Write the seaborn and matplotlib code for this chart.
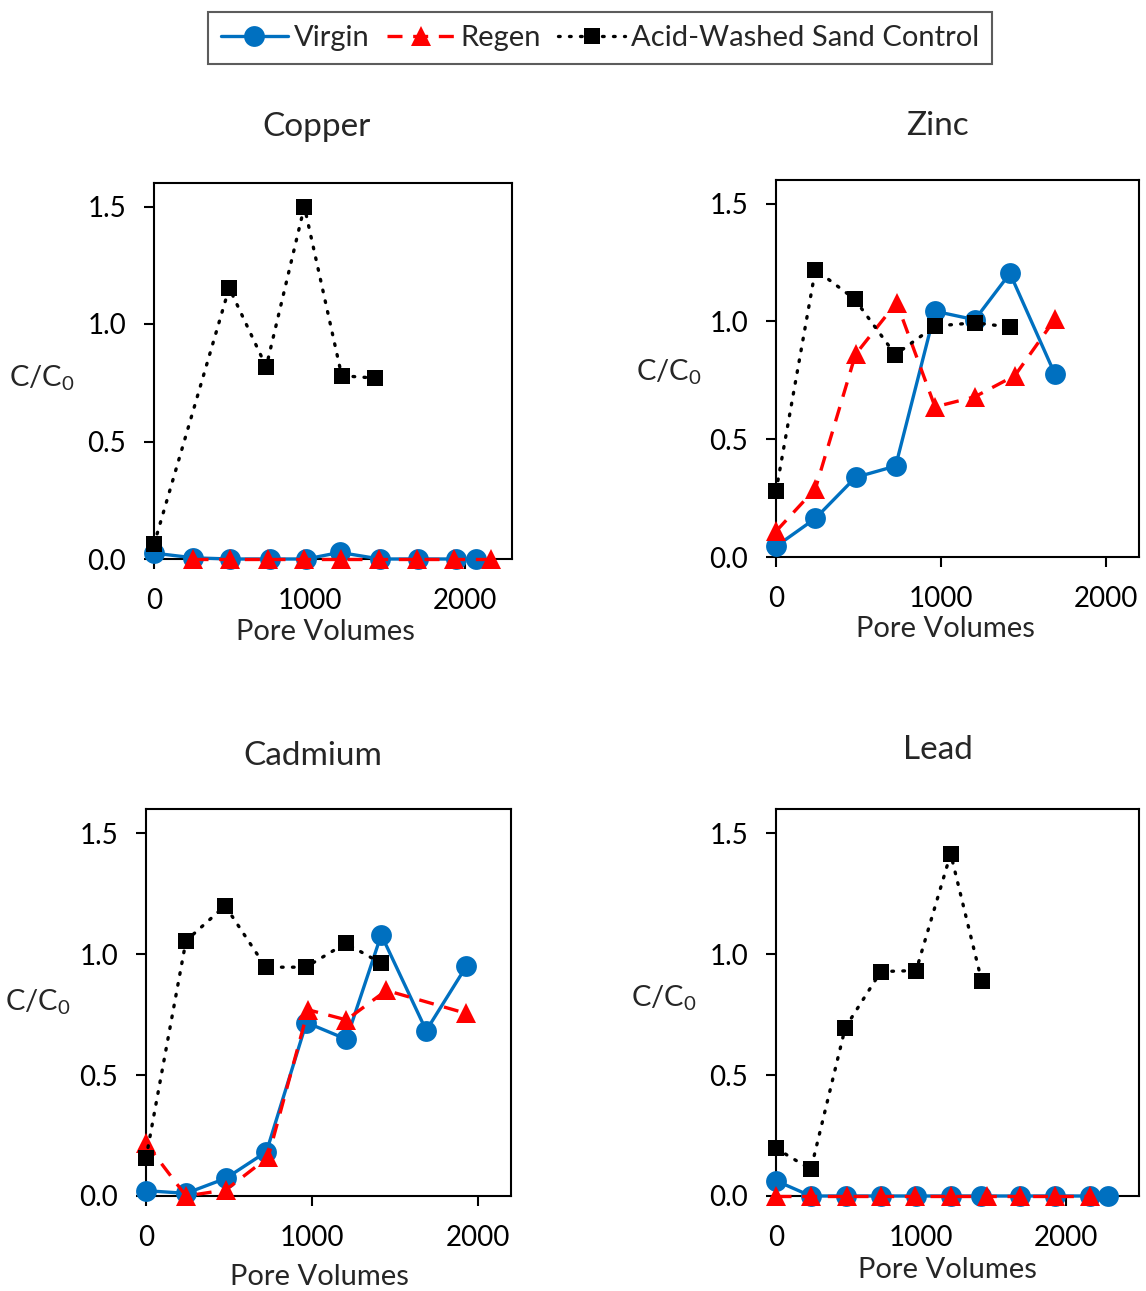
import matplotlib
matplotlib.use("Agg")
import matplotlib.pyplot as plt
import seaborn as sns
import pandas as pd

sns.set_theme(style="ticks")
plt.rcParams["font.family"] = ["Lato", "DejaVu Sans"]
plt.rcParams["mathtext.default"] = "regular"

# ---- data: pore volumes and C/C0 for each metal and column ----
copper_virgin_pv = [0, 253, 489, 743, 979, 1193, 1451, 1695, 1940, 2067]
copper_virgin_c = [0.025, 0.005, 0.0, 0.0, 0.0, 0.028, 0.0, 0.0, 0.0, 0.0]
copper_regen_pv = [251, 489, 730, 966, 1202, 1448, 1690, 1927, 2163]
copper_regen_c = [0.0, 0.0, 0.0, 0.0, 0.0, 0.0, 0.0, 0.0, 0.0]
copper_sand_pv = [0, 483, 721, 966, 1206, 1417]
copper_sand_c = [0.062, 1.154, 0.818, 1.5, 0.78, 0.77]

zinc_virgin_pv = [0, 239, 482, 725, 964, 1205, 1418, 1691]
zinc_virgin_c = [0.045, 0.164, 0.338, 0.386, 1.043, 1.007, 1.204, 0.775]
zinc_regen_pv = [0, 239, 482, 731, 964, 1205, 1448, 1691]
zinc_regen_c = [0.109, 0.29, 0.86, 1.08, 0.637, 0.68, 0.77, 1.01]
zinc_sand_pv = [0, 239, 476, 723, 964, 1205, 1418]
zinc_sand_c = [0.278, 1.22, 1.095, 0.859, 0.98, 0.994, 0.976]

cadmium_virgin_pv = [0, 241, 481, 726, 967, 1208, 1418, 1689, 1930]
cadmium_virgin_c = [0.022, 0.011, 0.073, 0.183, 0.717, 0.648, 1.08, 0.684, 0.949]
cadmium_regen_pv = [0, 241, 481, 736, 977, 1208, 1449, 1930]
cadmium_regen_c = [0.218, 0.0, 0.025, 0.16, 0.77, 0.728, 0.85, 0.755]
cadmium_sand_pv = [0, 241, 477, 722, 963, 1204, 1418]
cadmium_sand_c = [0.156, 1.055, 1.2, 0.946, 0.946, 1.045, 0.962]

lead_virgin_pv = [0, 240, 481, 722, 962, 1203, 1409, 1679, 1924, 2165, 2284]
lead_virgin_c = [0.063, 0.0, 0.0, 0.0, 0.0, 0.0, 0.0, 0.0, 0.0, 0.0, 0.0]
lead_regen_pv = [0, 240, 486, 726, 958, 1203, 1450, 1679, 1924, 2165]
lead_regen_c = [0.0, 0.0, 0.0, 0.0, 0.0, 0.0, 0.0, 0.0, 0.0, 0.0]
lead_sand_pv = [0, 240, 477, 722, 965, 1203, 1416]
lead_sand_c = [0.197, 0.11, 0.696, 0.928, 0.932, 1.415, 0.89]

metals = ["Copper", "Zinc", "Cadmium", "Lead"]
series_names = ["Virgin", "Regen", "Acid-Washed Sand Control"]
x_max = [2300, 2200, 2200, 2500]
y_ticks = [0.0, 0.5, 1.0, 1.5]
x_ticks = [0, 1000, 2000]

records = []
for metal, groups in zip(metals, [
    [(copper_virgin_pv, copper_virgin_c), (copper_regen_pv, copper_regen_c), (copper_sand_pv, copper_sand_c)],
    [(zinc_virgin_pv, zinc_virgin_c), (zinc_regen_pv, zinc_regen_c), (zinc_sand_pv, zinc_sand_c)],
    [(cadmium_virgin_pv, cadmium_virgin_c), (cadmium_regen_pv, cadmium_regen_c), (cadmium_sand_pv, cadmium_sand_c)],
    [(lead_virgin_pv, lead_virgin_c), (lead_regen_pv, lead_regen_c), (lead_sand_pv, lead_sand_c)],
]):
    for name, (pv, c) in zip(series_names, groups):
        for xv, yv in zip(pv, c):
            records.append({"metal": metal, "series": name, "pv": xv, "c": yv})
df = pd.DataFrame(records)

styles = {
    "Virgin": dict(color="#0070C0", marker="o", markersize=15, linestyle="-", linewidth=2.4),
    "Regen": dict(color="#FF0000", marker="^", markersize=14, linestyle=(0, (4.5, 3.2)), linewidth=2.4),
    "Acid-Washed Sand Control": dict(color="black", marker="s", markersize=11.5,
                                     linestyle=(0, (0.5, 2.8)), linewidth=2.4,
                                     dash_capstyle="round"),
}

W, H = 1146, 1291
fig = plt.figure(figsize=(W / 100, H / 100), dpi=100)

# axes boxes in pixels: left, top, right, bottom
boxes = {
    "Copper": (154, 183, 512, 559),
    "Zinc": (776, 180, 1139, 557),
    "Cadmium": (146, 809, 511, 1196),
    "Lead": (776, 809, 1139, 1196),
}
title_pos = {"Copper": (0.453, 1.148), "Zinc": (0.445, 1.144),
             "Cadmium": (0.458, 1.137), "Lead": (0.445, 1.152)}
ylabel_pos = {"Copper": (-0.313, 0.48), "Zinc": (-0.294, 0.49),
              "Cadmium": (-0.296, 0.50), "Lead": (-0.308, 0.51)}
xlabel_pos = {"Copper": (0.478, -0.193), "Zinc": (0.467, -0.192),
              "Cadmium": (0.474, -0.209), "Lead": (0.472, -0.191)}

FS = 20
handles = []
for metal, xm in zip(metals, x_max):
    l, t, r, b = boxes[metal]
    ax = fig.add_axes([l / W, 1 - b / H, (r - l) / W, (b - t) / H])
    sub = df[df["metal"] == metal]
    for name in series_names:
        d = sub[sub["series"] == name]
        sns.lineplot(data=d, x="pv", y="c", ax=ax, sort=False, estimator=None,
                     markeredgewidth=0, clip_on=False, zorder=3, **styles[name])
    ax.set_xlim(0, xm)
    ax.set_ylim(0, 1.6)
    ax.set_xticks(x_ticks)
    ax.set_yticks(y_ticks)
    ax.set_yticklabels([f"{v:.1f}" for v in y_ticks])
    ax.tick_params(axis="both", direction="out", length=7, width=1.5,
                   labelsize=FS, colors="black")
    ax.tick_params(axis="x", pad=14)
    ax.tick_params(axis="y", pad=13)
    for sp in ax.spines.values():
        sp.set_linewidth(1.5)
        sp.set_color("black")
    ax.set_xlabel("Pore Volumes", fontsize=21, va="center", ha="center")
    ax.set_ylabel("C/C$_0$", fontsize=21, rotation=0, ha="center", va="center")
    ax.xaxis.set_label_coords(*xlabel_pos[metal])
    ax.yaxis.set_label_coords(*ylabel_pos[metal])
    tx, ty = title_pos[metal]
    ax.text(tx, ty, metal, transform=ax.transAxes, ha="center", va="center", fontsize=24)
    if not handles:
        handles = ax.get_lines()[:3]

leg = fig.legend(handles, series_names, loc="center", ncol=3,
                 bbox_to_anchor=(600 / W, 1 - 38 / H), fontsize=21,
                 frameon=True, fancybox=False, edgecolor="#333333",
                 handlelength=2.3, handletextpad=0.2, columnspacing=0.6,
                 borderpad=0.45, borderaxespad=0)
leg.get_frame().set_linewidth(1.5)

fig.savefig("out.png", dpi=100)
